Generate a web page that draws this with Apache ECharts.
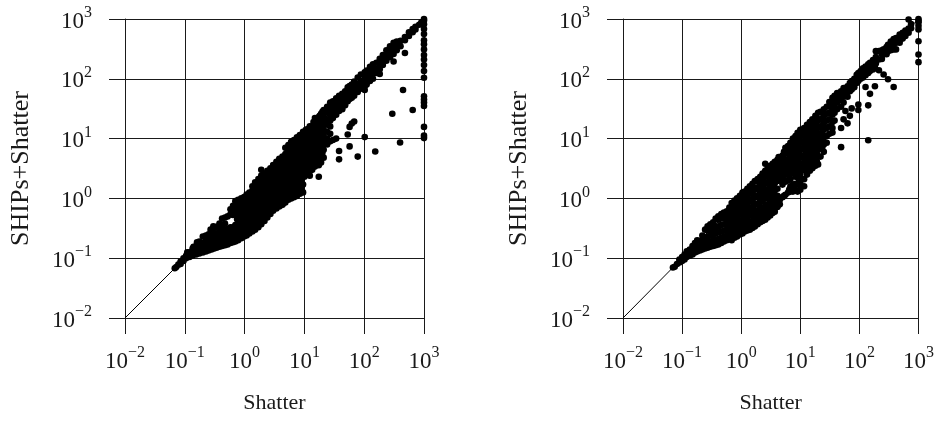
<!DOCTYPE html>
<html><head><meta charset="utf-8">
<style>html,body{margin:0;padding:0;background:#fff}#c{width:937px;height:421px}</style>
<script src="https://cdn.jsdelivr.net/npm/echarts@6/dist/echarts.min.js"></script>
</head><body><div id="c"></div>
<script>
const tickExponents = ['\u22122','\u22121','0','1','2','3'];
const xTitle = 'Shatter';
const yTitle = 'SHIPs+Shatter';
const diagonal = [[0.01,0.01],[1000,1000]];

// each row: Shatter value, then the SHIPs+Shatter values read at that Shatter value
const leftColumns = [
[0.068,[0.068]],[0.072,[0.071]],[0.078,[0.078]],[0.085,[0.08,0.088]],[0.095,[0.09,0.1]],[0.105,[0.1,0.11]],
[0.12,[0.105,0.125]],[0.135,[0.11,0.125,0.145]],[0.155,[0.115,0.13,0.16]],[0.175,[0.12,0.14,0.165,0.19]],
[0.2,[0.125,0.15,0.18,0.23]],[0.225,[0.13,0.15,0.17,0.2,0.24]],[0.25,[0.135,0.155,0.18,0.22,0.25]],
[0.28,[0.14,0.16,0.19,0.23,0.28]],[0.31,[0.145,0.17,0.2,0.25,0.32]],[0.34,[0.15,0.175,0.21,0.26,0.335]],
[0.38,[0.155,0.18,0.22,0.27,0.33,0.38]],[0.42,[0.16,0.19,0.23,0.28,0.36,0.46]],[0.47,[0.165,0.2,0.24,0.3,0.38,0.48]],
[0.52,[0.17,0.205,0.25,0.31,0.5]],[0.58,[0.18,0.21,0.26,0.33,0.54,0.66]],[0.64,[0.185,0.22,0.27,0.33,0.53,0.75]],
[0.7,[0.19,0.23,0.29,0.36,0.56,0.72,0.9]],[0.78,[0.2,0.24,0.3,0.4,0.52,0.7,0.95]],[0.88,[0.215,0.26,0.33,0.43,0.56,0.75,1.0]],
[0.98,[0.23,0.28,0.36,0.47,0.6,0.8,1.05]],[1.08,[0.24,0.3,0.38,0.5,0.65,0.85,1.16]],[1.2,[0.26,0.33,0.42,0.55,0.7,0.92,1.25]],
[1.35,[0.28,0.36,0.47,0.6,0.78,1.0,1.35,1.6]],[1.5,[0.3,0.39,0.5,0.65,0.85,1.1,1.45,1.85]],[1.7,[0.33,0.42,0.55,0.72,0.95,1.2,1.6,2.1]],
[1.9,[0.37,0.47,0.6,0.8,1.05,1.35,1.8,2.4,3.0]],[2.15,[0.42,0.53,0.7,0.9,1.15,1.5,2,2.6]],[2.4,[0.48,0.6,0.78,1.0,1.3,1.7,2.2,2.9]],
[2.7,[0.55,0.7,0.9,1.15,1.5,1.9,2.5,3.2]],[3.0,[0.62,0.8,1.0,1.3,1.65,2.1,2.7,3.6]],[3.4,[0.68,0.9,1.15,1.45,1.85,2.4,3.1,4.1]],
[3.8,[0.73,0.95,1.25,1.6,2.05,2.7,3.5,4.6]],[4.3,[0.78,1.0,1.3,1.7,2.2,2.9,3.8,5]],[4.8,[0.85,1.1,1.4,1.85,2.4,3.2,4.2,5.5,7]],
[5.4,[0.95,1.25,1.6,2.1,2.7,3.5,4.6,6,7.8]],[6,[1.0,1.3,1.7,2.2,2.9,3.8,5,6.5,8.8]],[6.7,[1.05,1.4,1.9,2.5,3.2,4.2,5.5,7.2,9.5]],
[7.5,[1.1,1.5,2.0,2.7,3.5,4.6,6,8,10.5]],[8.4,[1.2,1.6,2.2,2.9,3.8,5,6.5,8.7,11.5]],[9.5,[1.26,1.7,2.4,3.2,4.2,5.5,7.2,9.5,13]],
[10.6,[2.8,3.6,4.6,6,7.8,10,14]],[12.3,[2.4,3.2,4.2,5.5,7.2,9.5,12.5,16]],[13.5,[3.0,4,5.2,6.8,9,12,16]],
[15,[3.4,4.4,5.8,7.5,10,13,17,22]],[17.4,[2.3,3.6,4.7,6.2,8,10.5,14,18,23]],[19,[4,5.2,7,9,12,15.5,20,26]],
[21,[4.8,6.5,8.5,11,14,18,23,30]],[24,[8,10,13,17,21,27,34]],[27,[9,12,16,20,25,32,40]],[30,[9.5,22,27,34,42]],
[34,[10,25,31,38,47]],[38,[4.5,6.2,29,35,43,52]],[43,[31,38,46,56]],[48,[36,44,52,62]],[53,[11.7,42,50,60,72]],
[57,[7.4,15.7,46,54,64,76]],[62,[17.9,48,56,66,80]],[68,[19.3,52,62,72,90]],[78,[5.0,60,70,82,105]],[88,[68,78,92,118]],
[102,[10.6,65,76,86,100,128]],[110,[80,92,108,138]],[125,[92,105,125,158]],[140,[100,120,140,175]],[153,[6.1]],
[160,[125,145,185]],[182,[120,145,170,215]],[205,[170,200,250]],[235,[200,240,300]],[270,[230,280,350]],
[295,[26]],[310,[195,260,320,400]],[350,[300,360,420]],[398,[8.6]],[405,[350,430]],[446,[65]],[480,[270,440,500]],
[560,[520,600]],[647,[30,600,680]],[720,[670,740]],[830,[800]],[900,[870]],
[1000,[1000,940,820,680,560,440,380,310,250,210,170,135,104,51,45,40,35,15.7,11.2,10.2]],
[0.11,[0.125]],[0.14,[0.155]],[0.16,[0.185]],[0.27,[0.3]],[0.3,[0.34]],
[0.62,[0.2,0.24,0.3,0.58]],[0.75,[0.22,0.27,0.34,0.45,0.6,0.82]],[0.93,[0.25,0.31,0.39,0.5,0.67,0.88]],
[1.14,[0.28,0.35,0.45,0.58,0.76,1.0]],[1.28,[0.31,0.39,0.5,0.64,0.82,1.08]],[1.42,[0.33,0.42,0.54,0.7,0.9,1.2,1.5]],
[1.6,[0.36,0.46,0.6,0.78,1.02,1.3,1.75]],[1.8,[0.42,0.53,0.7,0.88,1.15,1.5,2]],[2.0,[0.46,0.6,0.78,1.0,1.3,1.65,2.2]],
[2.25,[0.52,0.66,0.82,1.05,1.35,1.78,2.35]],[2.55,[0.62,0.8,1.02,1.3,1.7,2.2,2.8]],[2.85,[0.7,0.9,1.15,1.45,1.85,2.4,3.05]],
[3.2,[0.8,1.02,1.3,1.65,2.1,2.75,3.5]],[3.6,[0.85,1.08,1.38,1.75,2.3,3,3.9]],[4.05,[0.9,1.15,1.5,1.9,2.5,3.3,4.3]],
[4.55,[1,1.25,1.6,2.1,2.8,3.6,4.7]],[5.1,[1.1,1.42,1.85,2.4,3.1,4.1,5.3]],[5.7,[1.15,1.5,1.95,2.55,3.35,4.4,5.8,7.3]],
[6.35,[1.25,1.65,2.2,2.85,3.7,4.9,6.4,8.2]],[7.1,[1.3,1.75,2.35,3.1,4.1,5.3,7,9]],[7.95,[1.4,1.9,2.55,3.35,4.4,5.8,7.6,10]],
[8.95,[1.5,2.05,2.8,3.7,4.9,6.4,8.4,11]],[10,[2.3,3.2,4.1,5.3,6.9,8.9,12]],[11.4,[2.7,3.7,4.9,6.4,8.4,11,14.5]],
[12.9,[3.5,4.6,6,7.9,10.5,14]],[14.2,[3.9,5.1,6.6,8.8,11.5,15,19]],[16.2,[4.1,5.3,7,9,11.8,16,20]],
[18,[4.6,6,8,10.5,14,18,24]],[20,[5.8,7.7,10,13,17,21.5,28]]
];

const rightColumns = [
[0.07,[0.07]],[0.075,[0.072]],[0.082,[0.08]],[0.09,[0.085,0.095]],[0.1,[0.09,0.105]],[0.11,[0.095,0.115]],[0.12,[0.105,0.13]],
[0.135,[0.11,0.14]],[0.15,[0.115,0.135,0.16]],[0.165,[0.125,0.15,0.18]],[0.18,[0.13,0.155,0.2]],[0.2,[0.135,0.16,0.195]],
[0.22,[0.14,0.17,0.2,0.24]],[0.245,[0.145,0.18,0.22,0.3]],[0.27,[0.15,0.185,0.23,0.29,0.34]],[0.3,[0.155,0.19,0.24,0.3,0.37]],
[0.335,[0.16,0.2,0.25,0.31,0.4]],[0.37,[0.165,0.205,0.26,0.33,0.46]],[0.41,[0.17,0.21,0.27,0.34,0.44,0.5]],[0.46,[0.18,0.22,0.28,0.36,0.46,0.55]],
[0.51,[0.19,0.23,0.29,0.37,0.47,0.58]],[0.57,[0.2,0.24,0.3,0.39,0.5,0.61]],[0.63,[0.21,0.26,0.33,0.42,0.54,0.7]],[0.69,[0.2,0.27,0.35,0.45,0.58,0.84]],
[0.77,[0.22,0.28,0.36,0.47,0.61,0.8,0.92]],[0.85,[0.23,0.29,0.38,0.5,0.65,0.85,1]],[0.95,[0.25,0.31,0.41,0.54,0.7,0.9,1.1]],
[1.05,[0.26,0.33,0.43,0.57,0.75,0.97,1.25]],[1.15,[0.28,0.35,0.46,0.6,0.8,1.05,1.3]],[1.27,[0.29,0.37,0.48,0.63,0.85,1.1,1.45]],
[1.4,[0.3,0.39,0.52,0.68,0.9,1.2,1.6]],[1.55,[0.32,0.41,0.55,0.72,0.95,1.3,1.75]],[1.7,[0.34,0.44,0.58,0.78,1.05,1.4,1.95]],
[1.9,[0.37,0.48,0.63,0.82,1.1,1.5,2.1]],[2.1,[0.4,0.52,0.68,0.9,1.2,1.6,2.3]],[2.3,[0.42,0.55,0.9,1.2,1.6,2.1,2.6]],
[2.55,[0.44,0.58,0.76,1.0,1.3,1.75,2.3,2.9,3.8]],[2.8,[0.48,0.62,0.8,1.05,1.4,1.85,2.4,3.2]],[3.1,[0.52,0.68,0.88,1.15,1.5,2,2.6,3.5]],
[3.4,[0.57,0.72,0.95,1.25,1.65,2.2,2.9,3.8]],[3.7,[0.6,0.78,1.0,1.35,1.8,2.4,3.1,4.1]],[4.1,[0.72,0.88,1.1,1.45,1.95,2.6,3.4,4.4]],
[4.5,[0.8,0.95,2.0,2.7,3.6,4.6]],[5,[1.05,1.7,2.2,2.9,3.8,5.2]],[5.6,[1.15,1.9,2.5,3.2,4.2,5.6,7]],[6.2,[1.25,2.0,2.6,3.4,4.5,6,7.5]],
[6.8,[1.3,1.6,2.1,2.8,3.7,4.9,6.5,8.5]],[7.5,[1.3,1.7,3.0,4,5.2,7,9,10]],[8.3,[1.35,1.75,2.3,3.2,4.2,5.6,7.5,9.5,11]],
[9,[1.3,1.7,2.4,3.2,4.5,6,8,10.5,12.5]],[10,[1.4,1.8,2.5,3.4,4.8,6.4,8.5,11,14]],[11.6,[1.6,2.1,3,4,5.2,7,9,12,15]],
[13,[2.5,3.3,4.3,5.6,7.5,10,13,17]],[14.5,[2.9,3.8,5,6.5,8.5,11,15,19]],[16,[3.2,4.2,5.5,7,9.5,12,16,21]],[18,[3.5,4.6,6,8,10.5,14,18,24]],
[20,[3.7,5,6.5,8.5,11,15,20,27]],[22,[5,7,9,12,16,21,28]],[25,[6,8,10.5,14,18,24,31]],[28,[8.5,11,15,20,26,34]],[31,[12,16,21,27,35,41]],
[35,[12.6,15,19,25,31,40,48]],[38,[20,27,34,43,52]],[42,[31,40,48,58]],[49,[7.2,15,34,44,52,62]],[54,[21,40,50,60,70]],[58,[29]],
[63,[18,50,60,75]],[69,[24,62,70,85]],[74,[32,66,78,92]],[82,[72,84,100]],[90,[85,100,117]],[96,[30,37,92,110,125]],[105,[100,120,135]],
[115,[105,125,150]],[127,[73,115,135,160]],[141,[9.4,36,125,150,175]],[151,[56,135,165,186]],[170,[143,170,205]],[183,[75,155,190]],
[190,[180,230,290]],[214,[139,210,290]],[240,[215,260,300]],[257,[118,257,310]],[288,[257,300,340]],[305,[98,290,370]],[340,[300,350,420]],
[380,[73,310,380,460]],[417,[310,400,480]],[480,[400,470,550]],[540,[470,590]],[600,[520,640]],[680,[980,590,690]],[750,[700,820]],
[1000,[1000,930,880,770,670,425,255,190]],
[0.6,[0.22,0.28,0.35,0.45,0.57]],[0.73,[0.24,0.31,0.4,0.52,0.68]],[0.9,[0.27,0.34,0.44,0.58,0.76,0.95]],[1.1,[0.3,0.38,0.5,0.66,0.86,1.12]],
[1.33,[0.33,0.42,0.55,0.72,0.97,1.28]],[1.62,[0.37,0.48,0.63,0.84,1.13,1.52]],[2.0,[0.45,0.58,0.78,1.03,1.38,1.85]],[2.42,[0.5,0.66,1.05,1.4,1.9,2.5]],
[2.95,[0.58,0.76,1.0,1.3,1.72,2.25,3]],[3.55,[0.66,0.85,1.1,1.5,1.95,2.6,3.45]],[4.3,[0.78,2.3,3,3.9,4.9]],[5.3,[1.1,2,2.6,3.4,4.5,6]],
[6.5,[1.4,2.4,3.1,4.1,5.5,7.2]],[7.9,[1.5,2.6,3.6,4.6,6.2,8.2,10]],[9.5,[2.1,2.9,3.9,5.4,7.2,9.5,12.5]],[12.2,[2.9,3.7,4.8,6.3,8.4,11,14.5]],
[15.2,[3.4,4.5,5.8,7.7,10,13,17]],[19,[4.2,5.6,7.2,9.4,12.5,16.5,22]],[23.5,[7,9.4,12.5,16,21,27]]
];

const flatten = cols => cols.flatMap(([x, ys]) => ys.map(y => [x, y]));
const font = '"Liberation Serif", serif';
const ink = '#1a1a1a';
const grids = [
  {left:125, top:19, width:299, height:299},
  {left:623, top:19, width:299, height:299}
];
function axis(i, isX) {
  return {
    type:'log', logBase:10, min:0.01, max:1000, gridIndex:i,
    name: isX ? xTitle : yTitle, nameLocation:'middle', nameGap: isX ? 74 : 91,
    nameTextStyle:{fontFamily:font, fontSize: isX ? 22 : 26, color:ink},
    axisLine:{show:true, onZero:false, lineStyle:{color:ink, width:1}},
    axisTick:{show:true, length:16, lineStyle:{color:ink, width:1}},
    minorTick:{show:false}, minorSplitLine:{show:false},
    splitLine:{show:true, lineStyle:{color:ink, width:1, type:'solid'}},
    axisLabel:{
      show:true, margin: isX ? 27 : 33, color:ink, hideOverlap:false, showMinLabel:true, showMaxLabel:true,
      formatter:(v) => {
        const e = tickExponents[Math.round(Math.log10(v)) + 2];
        return '{b|10}{s|' + e + '}';
      },
      rich:{
        b:{fontFamily:font, fontSize:23, color:ink, lineHeight:28, verticalAlign:'bottom'},
        s:{fontFamily:font, fontSize:16, color:ink, lineHeight:28, verticalAlign:'top'}
      }
    }
  };
}
function panel(i, cols) {
  return [
    {type:'line', xAxisIndex:i, yAxisIndex:i, data:diagonal, symbol:'none', silent:true, animation:false,
     lineStyle:{color:'#000', width:1}},
    {type:'scatter', xAxisIndex:i, yAxisIndex:i, data:flatten(cols), symbol:'circle', symbolSize:6.6, clip:false,
     itemStyle:{color:'#000', opacity:1}, animation:false, silent:true}
  ];
}
const chart = echarts.init(document.getElementById('c'), null, {renderer:'canvas'});
chart.setOption({
  animation:false, backgroundColor:'#fff',
  grid:grids,
  xAxis:[axis(0,true), axis(1,true)],
  yAxis:[axis(0,false), axis(1,false)],
  series:[...panel(0,leftColumns), ...panel(1,rightColumns)]
});
</script></body></html>
